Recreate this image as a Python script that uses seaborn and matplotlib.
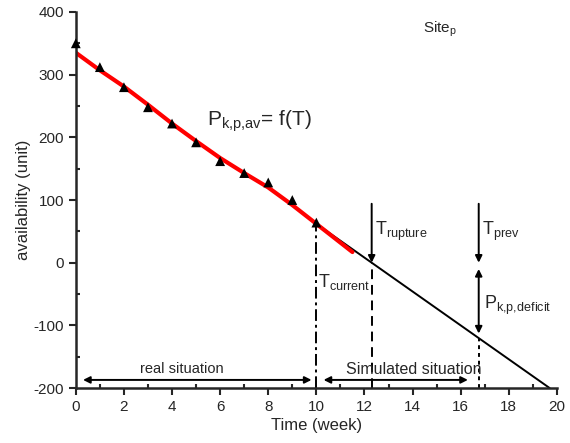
import matplotlib
matplotlib.use("Agg")
import matplotlib.pyplot as plt
import seaborn as sns
import pandas as pd

# observed availability (triangles)
obs_week = [0, 1, 2, 3, 4, 5, 6, 7, 8, 9, 10]
obs_avail = [350, 312, 280, 248, 222, 192, 162, 143, 128, 100, 64]

# fitted curve P_k,p,av = f(T) (red)
fit_week = [0, 1, 2, 3, 4, 5, 6, 7, 8, 9, 10, 11.5]
fit_avail = [335, 307, 281, 252, 222, 194, 167, 143, 120, 92, 62, 17]

# simulated extrapolation (black)
sim_week = [10, 12.3, 19.7]
sim_avail = [62, 0, -200]

t_current = 10
t_rupture = 12.3
t_prev = 16.75
deficit_at_prev = -120

x_ticks = [0, 2, 4, 6, 8, 10, 12, 14, 16, 18, 20]
y_ticks = [-200, -100, 0, 100, 200, 300, 400]

sns.set_style("ticks")
plt.rcParams['font.family'] = ['Liberation Sans', 'DejaVu Sans']
plt.rcParams['axes.unicode_minus'] = False
plt.rcParams['mathtext.fontset'] = 'custom'
plt.rcParams['mathtext.rm'] = 'Liberation Sans'
plt.rcParams['mathtext.it'] = 'Liberation Sans'

fig = plt.figure(figsize=(5.7, 4.43), dpi=100)
ax = fig.add_axes([0.133, 0.124, 0.844, 0.849])

obs = pd.DataFrame({"week": obs_week, "avail": obs_avail})
fit = pd.DataFrame({"week": fit_week, "avail": fit_avail})
sim = pd.DataFrame({"week": sim_week, "avail": sim_avail})

sns.lineplot(data=sim, x="week", y="avail", color="black", lw=1.4, ax=ax)
sns.lineplot(data=fit, x="week", y="avail", color="red", lw=3, ax=ax)
sns.scatterplot(data=obs, x="week", y="avail", marker="^", color="black",
                s=50, edgecolor="none", ax=ax, zorder=5, clip_on=False)

# vertical guide lines
ax.plot([t_current, t_current], [-200, 62], color="black", lw=1.4, ls=(0, (6, 2, 1.5, 2)))
ax.plot([t_rupture, t_rupture], [-200, 0], color="black", lw=1.4, ls=(0, (5, 3)))
ax.plot([t_prev, t_prev], [-200, deficit_at_prev], color="black", lw=1.4, ls=(0, (2, 2)))

arrow = dict(arrowstyle="-|>", color="black", lw=1.4, mutation_scale=10, shrinkA=0, shrinkB=0)
darrow = dict(arrowstyle="<|-|>", color="black", lw=1.4, mutation_scale=10, shrinkA=0, shrinkB=0)

# zero line with arrow
ax.annotate("", xy=(20.15, 0), xytext=(0, 0), arrowprops=arrow)
# T_rupture / T_prev arrows
ax.annotate("", xy=(t_rupture, 0), xytext=(t_rupture, 94), arrowprops=arrow)
ax.annotate("", xy=(t_prev, 0), xytext=(t_prev, 94), arrowprops=arrow)
# deficit
ax.annotate("", xy=(t_prev, -10), xytext=(t_prev, -113), arrowprops=darrow)
# situations
ax.annotate("", xy=(0.3, -187), xytext=(9.8, -187), arrowprops=darrow)
ax.annotate("", xy=(10.3, -187), xytext=(16.3, -187), arrowprops=darrow)

ax.text(5.45, 226, r"P$_{\rm k{,}p{,}av}$= f(T)", fontsize=15, va="center", ha="left")
ax.text(14.45, 372, r"Site$_{\rm p}$", fontsize=11, va="center", ha="left")
ax.text(12.45, 50, r"T$_{\rm rupture}$", fontsize=13, va="center", ha="left")
ax.text(16.9, 50, r"T$_{\rm prev}$", fontsize=13, va="center", ha="left")
ax.text(10.05, -30, r"T$_{\rm current}$", fontsize=13, va="center", ha="left")
ax.text(16.95, -68, r"P$_{\rm k{,}p{,}deficit}$", fontsize=13, va="center", ha="left")
ax.text(4.4, -170, "real situation", fontsize=10.5, va="center", ha="center")
ax.text(14.05, -170, "Simulated situation", fontsize=11.5, va="center", ha="center")

ax.set_xlim(0, 20)
ax.set_ylim(-200, 400)
ax.set_xticks(x_ticks)
ax.set_yticks(y_ticks)
ax.set_xticks([1, 3, 5, 7, 9, 11, 13, 15, 17, 19], minor=True)
ax.set_yticks([-150, -50, 50, 150, 250, 350], minor=True)
ax.tick_params(which="major", direction="out", length=5, width=1.5, labelsize=11)
ax.tick_params(which="minor", direction="in", length=3, width=1.5)
for side in ["left", "bottom"]:
    ax.spines[side].set_linewidth(1.8)
sns.despine(ax=ax)

ax.set_xlabel("Time (week)", fontsize=12, labelpad=3)
ax.set_ylabel("availability (unit)", fontsize=12, labelpad=2)

fig.savefig("out.png", dpi=100)
